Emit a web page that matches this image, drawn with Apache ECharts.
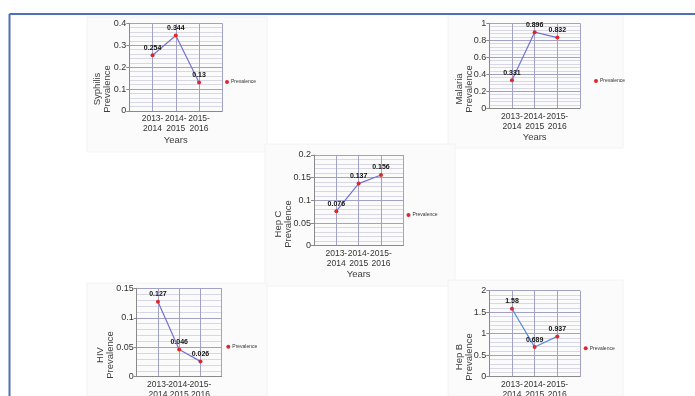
<!DOCTYPE html>
<html><head><meta charset="utf-8">
<script src="https://cdn.jsdelivr.net/npm/echarts@6/dist/echarts.min.js"></script>
<style>html,body{margin:0;padding:0;background:#fff}#c{width:695px;height:396px}</style>
</head><body><div id="c"></div>
<script>
// ---- data ----
const categories = ['2013-\n2014', '2014-\n2015', '2015-\n2016'];
const syphilis = [0.254, 0.344, 0.13];
const malaria = [0.331, 0.896, 0.832];
const hepC = [0.076, 0.137, 0.156];
const hiv = [0.127, 0.046, 0.026];
const hepB = [1.58, 0.689, 0.937];
const seriesName = 'Prevalence';
const xTitle = 'Years';
const yTitles = ['Syphilis\nPrevalence', 'Malaria\nPrevalence', 'Hep C\nPrevalence', 'HIV\nPrevalence', 'Hep B\nPrevalence'];
const yMax = [0.4, 1, 0.2, 0.15, 2];
const yInterval = [0.1, 0.2, 0.05, 0.05, 0.5];

// ---- layout ----
const FONT = "'Liberation Sans',Arial,sans-serif";
const values = [syphilis, malaria, hepC, hiv, hepB];
const layout = [
  {grid: [129.3, 23.3, 93, 87.7], yName: [102.5, 89], legend: [225, 79.5], line: '#7472d2', panel: [87, 17, 180, 135]},
  {grid: [489.3, 23.3, 90.7, 85], yName: [464.5, 89], legend: [594, 78.5], line: '#7472d2', panel: [448, 15, 175, 133]},
  {grid: [314, 155, 89.3, 90.7], yName: [283.5, 224], legend: [406.5, 212.5], line: '#7472d2', panel: [265, 144, 190, 142]},
  {grid: [136.7, 288.3, 85, 88.4], yName: [105, 355], legend: [226.3, 344.3], line: '#7472d2', panel: [87, 283, 180, 113]},
  {grid: [489.3, 290.7, 90.7, 86], yName: [464, 357], legend: [583.7, 345.8], line: '#5b8bd9', panel: [448, 280, 175, 116]}
];

const grids = [], xAxes = [], yAxes = [], series = [], legends = [], graphics = [];

layout.forEach((L, i) => {
  graphics.push({type: 'rect', z: -10, shape: {x: L.panel[0], y: L.panel[1], width: L.panel[2], height: L.panel[3]},
    style: {fill: '#fbfbfb', stroke: '#f2f2f2', lineWidth: 1}});
  grids.push({left: L.grid[0], top: L.grid[1], width: L.grid[2], height: L.grid[3], outerBoundsMode: 'none', containLabel: false});
  xAxes.push({
    type: 'value', gridIndex: i, min: 0, max: 4, interval: 1,
    name: xTitle, nameLocation: 'middle', nameGap: 23,
    nameTextStyle: {fontFamily: FONT, fontSize: 9.5, color: '#404040'},
    axisLine: {show: true, lineStyle: {color: '#8a8a8a', width: 1}},
    axisTick: {show: false},
    axisLabel: {fontFamily: FONT, fontSize: 8.5, color: '#333', lineHeight: 10, margin: 3,
      formatter: v => (v >= 1 && v <= 3) ? categories[v - 1] : ''},
    splitLine: {show: true, lineStyle: {color: '#a2a2c6', width: 1}}
  });
  yAxes.push({
    type: 'value', gridIndex: i, min: 0, max: yMax[i], interval: yInterval[i],
    axisLine: {show: true, lineStyle: {color: '#8a8a8a', width: 1}},
    axisTick: {show: true, length: 3, lineStyle: {color: '#8a8a8a'}},
    minorTick: {show: false, splitNumber: 5},
    minorSplitLine: {show: true, lineStyle: {color: '#d8d8e4', width: 1}},
    axisLabel: {fontFamily: FONT, fontSize: 9, color: '#333', margin: 3},
    splitLine: {show: true, lineStyle: {color: '#a2a2c6', width: 1}}
  });
  series.push({
    name: seriesName, type: 'line', xAxisIndex: i, yAxisIndex: i,
    data: values[i].map((v, k) => [k + 1, v]),
    symbol: 'circle', symbolSize: 4,
    itemStyle: {color: '#e0262a'},
    lineStyle: {color: L.line, width: 1.2},
    label: {show: true, position: 'top', distance: 2, fontFamily: FONT, fontSize: 7, fontWeight: 'bold', color: '#111',
      formatter: p => String(p.value[1])},
    animation: false
  });
  legends.push({
    data: [seriesName], left: L.legend[0], top: L.legend[1], padding: 0,
    icon: 'circle', itemWidth: 4, itemHeight: 4, itemGap: 2,
    textStyle: {fontFamily: FONT, fontSize: 5, color: '#333', padding: [0, 0, 0, -3]},
    selectedMode: false
  });
  graphics.push({type: 'text', x: L.yName[0], y: L.yName[1], rotation: Math.PI / 2,
    style: {text: yTitles[i], fontFamily: FONT, fontSize: 9.5, fill: '#404040', align: 'center', verticalAlign: 'middle', lineHeight: 10}});
});

graphics.push({type: 'line', shape: {x1: 9.5, y1: 14, x2: 695, y2: 14}, style: {stroke: '#4e70b6', lineWidth: 2}});
graphics.push({type: 'line', shape: {x1: 9.5, y1: 14, x2: 9.5, y2: 396}, style: {stroke: '#4e70b6', lineWidth: 2}});

const chart = echarts.init(document.getElementById('c'), null, {renderer: 'canvas'});
chart.setOption({
  animation: false,
  backgroundColor: '#fff',
  grid: grids, xAxis: xAxes, yAxis: yAxes, series: series, legend: legends,
  graphic: graphics
});
</script></body></html>
